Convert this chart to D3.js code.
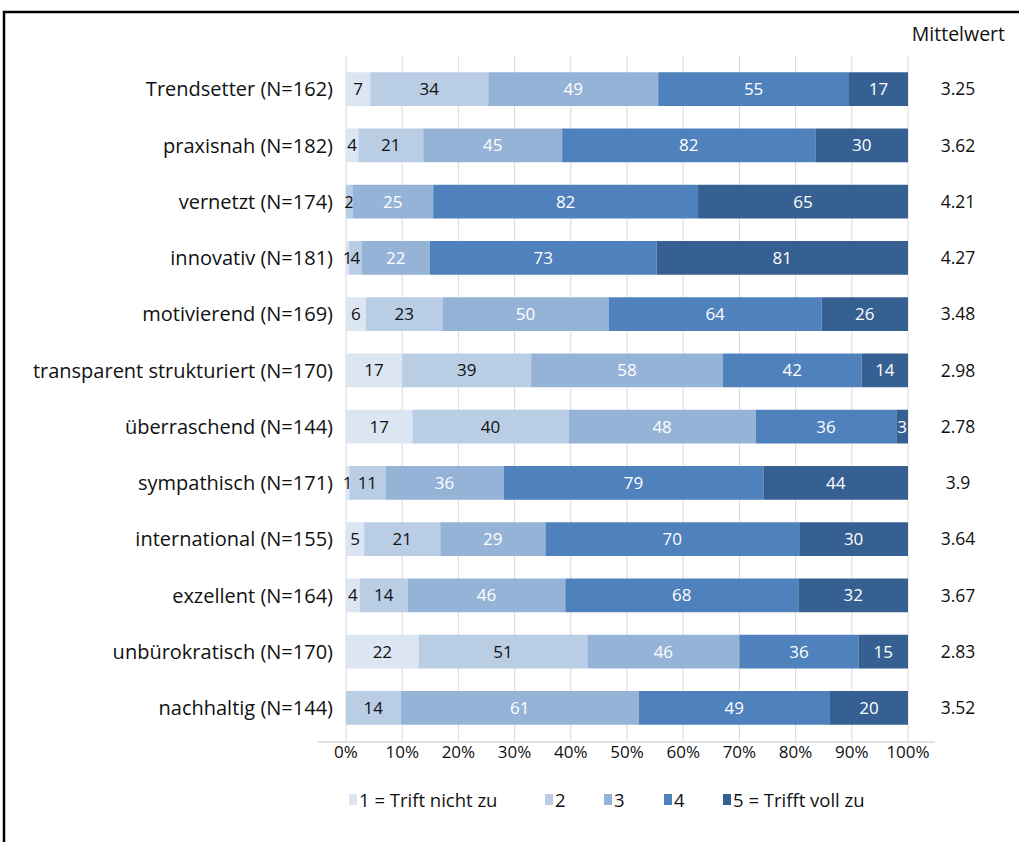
<!DOCTYPE html>
<html>
<head>
<meta charset="utf-8">
<script src="https://cdn.jsdelivr.net/npm/d3@7"></script>
<style>
  body { margin: 0; background: #fff; }
  svg { display: block; font-family: "Open Sans", sans-serif; }
</style>
</head>
<body>
<script>
// data
var categories = [
  'Trendsetter (N=162)', 'praxisnah (N=182)', 'vernetzt (N=174)', 'innovativ (N=181)',
  'motivierend (N=169)', 'transparent strukturiert (N=170)', 'überraschend (N=144)',
  'sympathisch (N=171)', 'international (N=155)', 'exzellent (N=164)',
  'unbürokratisch (N=170)', 'nachhaltig (N=144)'
];
var s1 = [7, 4, 0, 1, 6, 17, 17, 1, 5, 4, 22, 0];
var s2 = [34, 21, 2, 4, 23, 39, 40, 11, 21, 14, 51, 14];
var s3 = [49, 45, 25, 22, 50, 58, 48, 36, 29, 46, 46, 61];
var s4 = [55, 82, 82, 73, 64, 42, 36, 79, 70, 68, 36, 49];
var s5 = [17, 30, 65, 81, 26, 14, 3, 44, 30, 32, 15, 20];
var means = ['3.25', '3.62', '4.21', '4.27', '3.48', '2.98', '2.78', '3.9', '3.64', '3.67', '2.83', '3.52'];
var seriesNames = ['1 = Trift nicht zu', '2', '3', '4', '5 = Trifft voll zu'];
var colors = ['#dce6f2', '#b9cde5', '#95b3d7', '#4f81bd', '#376092'];
var textColors = ['#111', '#111', '#fff', '#fff', '#fff'];
var ticks = [0, 0.1, 0.2, 0.3, 0.4, 0.5, 0.6, 0.7, 0.8, 0.9, 1];

var width = 1019, height = 842;
var keys = ['s1', 's2', 's3', 's4', 's5'];
var rows = categories.map(function(c, i) {
  var tot = s1[i] + s2[i] + s3[i] + s4[i] + s5[i];
  return {cat: c, tot: tot, s1: s1[i], s2: s2[i], s3: s3[i], s4: s4[i], s5: s5[i]};
});

var svg = d3.select('body').append('svg')
    .attr('width', width)
    .attr('height', height);

svg.append('rect')
    .attr('x', 4).attr('y', 12)
    .attr('width', 1200).attr('height', 1000)
    .attr('fill', 'none')
    .attr('stroke', '#000')
    .attr('stroke-width', 2.5);

var x = d3.scaleLinear().domain([0, 1]).range([346, 908]);
var y = d3.scaleBand().domain(categories).range([61, 736])
    .paddingInner(0.4).paddingOuter(0.2);

// gridlines
svg.append('g').selectAll('line')
    .data(ticks)
    .enter().append('line')
    .attr('x1', function(d) { return x(d); })
    .attr('x2', function(d) { return x(d); })
    .attr('y1', 55)
    .attr('y2', 742)
    .attr('stroke', '#d9d9d9')
    .attr('stroke-width', 1);

var stack = d3.stack().keys(keys)
    .value(function(d, k) { return d[k] / d.tot; });
var layers = stack(rows);

var groups = svg.append('g').selectAll('g')
    .data(layers)
    .enter().append('g')
    .attr('fill', function(d, i) { return colors[i]; });

groups.selectAll('rect')
    .data(function(d) { return d; })
    .enter().append('rect')
    .attr('x', function(d) { return x(d[0]); })
    .attr('width', function(d) { return x(d[1]) - x(d[0]); })
    .attr('y', function(d) { return y(d.data.cat); })
    .attr('height', y.bandwidth());

groups.each(function(layer, li) {
  d3.select(this).selectAll('text')
      .data(layer.filter(function(d) { return d.data[keys[li]] > 0; }))
      .enter().append('text')
      .attr('x', function(d) { return (x(d[0]) + x(d[1])) / 2; })
      .attr('y', function(d) { return y(d.data.cat) + y.bandwidth() / 2; })
      .attr('dy', '0.36em')
      .attr('text-anchor', 'middle')
      .attr('font-size', 17)
      .attr('fill', textColors[li])
      .text(function(d) { return d.data[keys[li]]; });
});

// axis line and ticks
svg.append('line')
    .attr('x1', 318).attr('x2', 935)
    .attr('y1', 742).attr('y2', 742)
    .attr('stroke', '#d9d9d9')
    .attr('stroke-width', 1.5);

svg.append('g').selectAll('text')
    .data(ticks)
    .enter().append('text')
    .attr('x', function(d) { return x(d); })
    .attr('y', 758)
    .attr('text-anchor', 'middle')
    .attr('font-size', 17)
    .attr('fill', '#111')
    .text(function(d) { return d3.format('.0%')(d); });

// category labels
svg.append('g').selectAll('text')
    .data(categories)
    .enter().append('text')
    .attr('x', 333)
    .attr('y', function(d) { return y(d) + y.bandwidth() / 2; })
    .attr('dy', '0.36em')
    .attr('text-anchor', 'end')
    .attr('font-size', 20)
    .attr('fill', '#111')
    .text(function(d) { return d; });

// Mittelwert column
svg.append('text')
    .attr('x', 1005).attr('y', 41)
    .attr('text-anchor', 'end')
    .attr('font-size', 19.5)
    .attr('fill', '#111')
    .text('Mittelwert');

svg.append('g').selectAll('text')
    .data(means)
    .enter().append('text')
    .attr('x', 958)
    .attr('y', function(d, i) { return y(categories[i]) + y.bandwidth() / 2; })
    .attr('dy', '0.36em')
    .attr('text-anchor', 'middle')
    .attr('font-size', 17.5)
    .attr('fill', '#111')
    .text(function(d) { return d; });

// legend
var legendX = [349, 545, 604, 664, 723];
var legend = svg.append('g').selectAll('g')
    .data(seriesNames)
    .enter().append('g')
    .attr('transform', function(d, i) { return 'translate(' + legendX[i] + ',800)'; });
legend.append('rect')
    .attr('x', 0).attr('y', -6)
    .attr('width', 8).attr('height', 11)
    .attr('fill', function(d, i) { return colors[i]; });
legend.append('text')
    .attr('x', 10).attr('y', 0)
    .attr('dy', '0.36em')
    .attr('font-size', 18.5)
    .attr('fill', '#111')
    .text(function(d) { return d; });
</script>
</body>
</html>
